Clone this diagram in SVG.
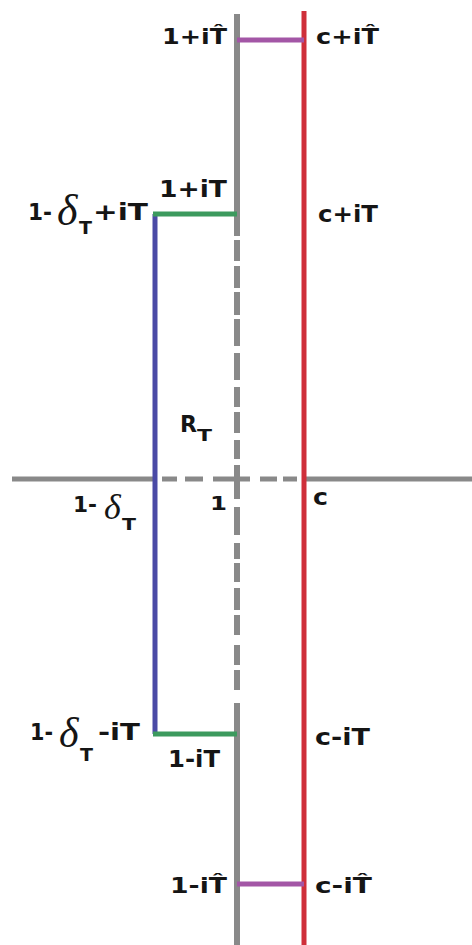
<svg xmlns="http://www.w3.org/2000/svg" width="472" height="945" viewBox="0 0 472 945">
<style>
.lbl{font-family:"DejaVu Sans","Verdana","Liberation Sans",sans-serif;font-weight:bold;fill:#151515;}
.dl{font-family:"Liberation Serif","Times New Roman",serif;font-style:italic;fill:#151515;}
.gray{stroke:#898989;stroke-width:6;fill:none;}
.axis{stroke:#898989;stroke-width:5;fill:none;}
.red{stroke:#cf2f3a;stroke-width:5;fill:none;}
.blue{stroke:#4a4aa6;stroke-width:5;fill:none;}
.green{stroke:#3c9a5e;stroke-width:5;fill:none;}
.purple{stroke:#a356a6;stroke-width:5;fill:none;}
</style>
<rect width="472" height="945" fill="#ffffff"/>
<g id="lines">
  <path class="axis" d="M12,479H155 M162,479H177 M185,479H203 M213,479H250 M260,479H277 M283,479H297 M303,479H472"/>
  <path class="gray" d="M237,14V236 M237,240V261 M237,266V288 M237,292V315 M237,319V346 M237,353V380 M237,387V407 M237,412V433 M237,440V459 M237,465V499 M237,507V535 M237,543V559 M237,563V582 M237,588V610 M237,615V635 M237,645V665 M237,670V690 M237,703V945"/>
  <path class="red" d="M304,11V945"/>
  <path class="blue" d="M155,214V734"/>
  <path class="green" d="M153,214H237 M153,734H237"/>
  <path class="purple" d="M237,40H304 M237,884H304"/>
</g>
<g id="labels">
  <text class="lbl" x="162" y="44" font-size="22" textLength="65" lengthAdjust="spacingAndGlyphs">1+iT̂</text>
  <text class="lbl" x="316" y="44" font-size="22" textLength="63" lengthAdjust="spacingAndGlyphs">c+iT̂</text>
  <text class="lbl" x="159" y="197" font-size="23" textLength="68" lengthAdjust="spacingAndGlyphs">1+iT</text>
  <text class="lbl" x="318" y="222" font-size="23" textLength="60" lengthAdjust="spacingAndGlyphs">c+iT</text>
  <g id="lbl-top-left">
    <text class="lbl" x="28" y="220" font-size="23" textLength="24" lengthAdjust="spacingAndGlyphs">1-</text>
    <text class="dl" x="57" y="225" font-size="44">δ</text>
    <text class="lbl" x="79" y="234" font-size="17" textLength="13" lengthAdjust="spacingAndGlyphs">T</text>
    <text class="lbl" x="93" y="220" font-size="23" textLength="55" lengthAdjust="spacingAndGlyphs">+iT</text>
  </g>
  <g id="lbl-RT">
    <text class="lbl" x="180" y="432" font-size="23" textLength="17" lengthAdjust="spacingAndGlyphs">R</text>
    <text class="lbl" x="197" y="441" font-size="16" textLength="15" lengthAdjust="spacingAndGlyphs">T</text>
  </g>
  <g id="lbl-mid-left">
    <text class="lbl" x="73" y="512" font-size="22" textLength="24" lengthAdjust="spacingAndGlyphs">1-</text>
    <text class="dl" x="104" y="519" font-size="36">δ</text>
    <text class="lbl" x="122" y="530" font-size="16" textLength="14" lengthAdjust="spacingAndGlyphs">T</text>
  </g>
  <text class="lbl" x="210" y="510" font-size="20" textLength="17" lengthAdjust="spacingAndGlyphs">1</text>
  <text class="lbl" x="313" y="505" font-size="23" textLength="15" lengthAdjust="spacingAndGlyphs">c</text>
  <g id="lbl-bot-left">
    <text class="lbl" x="30" y="740" font-size="23" textLength="23" lengthAdjust="spacingAndGlyphs">1-</text>
    <text class="dl" x="59" y="747" font-size="42">δ</text>
    <text class="lbl" x="80" y="761" font-size="17" textLength="13" lengthAdjust="spacingAndGlyphs">T</text>
    <text class="lbl" x="98" y="740" font-size="23" textLength="42" lengthAdjust="spacingAndGlyphs">-iT</text>
  </g>
  <text class="lbl" x="168" y="767" font-size="23" textLength="52" lengthAdjust="spacingAndGlyphs">1-iT</text>
  <text class="lbl" x="315" y="745" font-size="23" textLength="55" lengthAdjust="spacingAndGlyphs">c-iT</text>
  <text class="lbl" x="170" y="893" font-size="22" textLength="57" lengthAdjust="spacingAndGlyphs">1-iT̂</text>
  <text class="lbl" x="315" y="893" font-size="22" textLength="57" lengthAdjust="spacingAndGlyphs">c-iT̂</text>
</g>
</svg>
